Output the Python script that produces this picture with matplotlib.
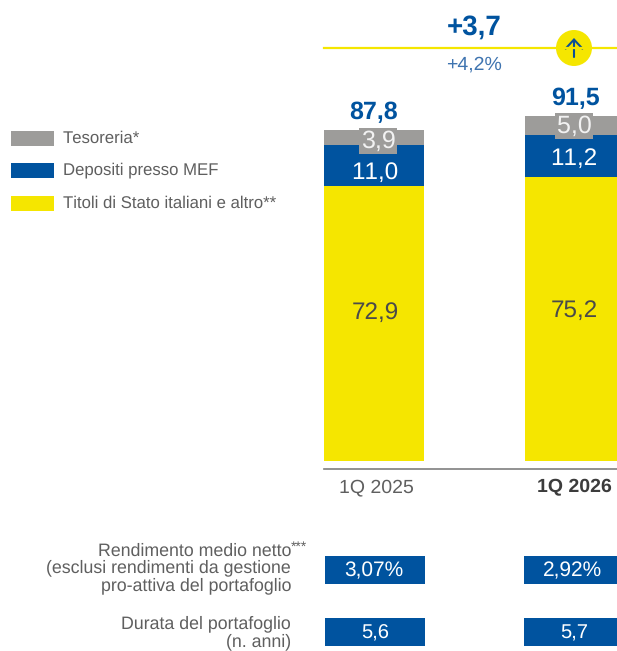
import matplotlib
matplotlib.use('Agg')
import matplotlib.pyplot as plt
from matplotlib.patches import Rectangle, Circle

plt.rcParams['font.family'] = ['Liberation Sans', 'DejaVu Sans']
plt.rcParams['text.kerning_factor'] = 6
plt.rcParams['text.hinting'] = 'no_hinting'

W, H = 617, 651
GREY = '#9d9c9a'
BLUE = '#00539f'
YELLOW = '#f5e600'
TXT = '#5f5f5f'

periods = ['1Q 2025', '1Q 2026']
titoli = [72.9, 75.2]
depositi = [11.0, 11.2]
tesoreria = [3.9, 5.0]
totali = ['87,8', '91,5']
titoli_lab = ['72,9', '75,2']
depositi_lab = ['11,0', '11,2']
tesoreria_lab = ['3,9', '5,0']
rendimento = ['3,07%', '2,92%']
durata = ['5,6', '5,7']
legend_labels = ['Tesoreria*', 'Depositi presso MEF', 'Titoli di Stato italiani e altro**']


def fx(x):
    return x / W


def fy(y):
    return 1 - y / H


def txt(x, y, s, **kw):
    kw.setdefault('ha', 'center')
    kw.setdefault('va', 'center')
    return fig.text(fx(x), fy(y), s, **kw)


def box(x, y, w, h, color):
    fig.add_artist(Rectangle((fx(x), fy(y + h)), w / W, h / H, transform=fig.transFigure,
                             facecolor=color, edgecolor='none'))


fig = plt.figure(figsize=(W / 100, H / 100), dpi=100)

# bars: axes from pixel x 324..617, baseline at y=461
ax = fig.add_axes([fx(324), fy(461), (617 - 324) / W, 461 / H])
ax.set_xlim(-0.2488, 1.209)
ax.set_ylim(0, 461 / 3.77)
ax.axis('off')
xs = [0, 1]
bw = 0.4975
ax.bar(xs, titoli, bw, color=YELLOW)
ax.bar(xs, depositi, bw, bottom=titoli, color=BLUE)
bott2 = [a + b for a, b in zip(titoli, depositi)]
ax.bar(xs, tesoreria, bw, bottom=bott2, color=GREY)

# labels sit off the segment centres in the reference, so they go by pixel
for i, (x, yt, yd, yg) in enumerate(zip([375, 574], [313, 311], [173, 159], [141, 126])):
    txt(x, yt, titoli_lab[i], fontsize=17.5, color='#4a4a4a')
    txt(x, yd, depositi_lab[i], fontsize=17.5, color='white')
    txt(x + 3 * (1 - i), yg, tesoreria_lab[i], fontsize=18, color='#f2f2f2',
        bbox=dict(facecolor=GREY, edgecolor='none', pad=1.0))
    ax.text(i, bott2[i] + tesoreria[i] + 1.5, totali[i], ha='center', va='bottom', fontsize=18,
            fontweight='bold', color=BLUE)

# baseline and period labels
fig.add_artist(plt.Line2D([fx(324), 1], [fy(469), fy(469)], color='#7f7f7f', lw=1.2))
txt(376, 487, periods[0], fontsize=14, color=TXT)
txt(574, 487, periods[1], fontsize=14, color='#3c3c3c', fontweight='bold')

# top delta
fig.add_artist(plt.Line2D([fx(324), 1], [fy(48), fy(48)], color=YELLOW, lw=1.6))
txt(474, 27, '+3,7', fontsize=20, fontweight='bold', color=BLUE)
txt(474, 65, '+4,2%', fontsize=14, color='#3f74b0')
top_ax = fig.add_axes([0, 0, 1, 1], facecolor='none')
top_ax.set_xlim(0, W)
top_ax.set_ylim(H, 0)
top_ax.axis('off')
top_ax.add_patch(Circle((574, 48), 18, facecolor=YELLOW, edgecolor='none'))
top_ax.annotate('', xy=(574, 38), xytext=(574, 57),
                arrowprops=dict(arrowstyle='->,head_width=0.6,head_length=0.65', color='#0a4f96', lw=1.5,
                                shrinkA=0, shrinkB=0))

# legend
for (ly, col, lab) in zip([131, 163, 196], [GREY, BLUE, YELLOW], legend_labels):
    box(11, ly, 43, 15, col)
    txt(63, ly + 7.5, lab, ha='left', fontsize=12.1, color=TXT)

# table rows
for x0, r, d in zip([325, 524], rendimento, durata):
    box(x0, 556, 100, 28, BLUE)
    box(x0, 618, 100, 28, BLUE)
    txt(x0 + 49, 571, r, fontsize=15, color='white')
    txt(x0 + 50, 633, d, fontsize=14.5, color='white')

txt(291, 551, 'Rendimento medio netto', ha='right', fontsize=12.8, color=TXT)
txt(291, 547, '***', ha='left', fontsize=10, color=TXT)
txt(291, 568, '(esclusi rendimenti da gestione', ha='right', fontsize=12.8, color=TXT)
txt(291, 586, 'pro-attiva del portafoglio', ha='right', fontsize=12.8, color=TXT)
txt(291, 624, 'Durata del portafoglio', ha='right', fontsize=12.8, color=TXT)
txt(291, 642, '(n. anni)', ha='right', fontsize=12.8, color=TXT)

fig.savefig('out.png', dpi=100)
